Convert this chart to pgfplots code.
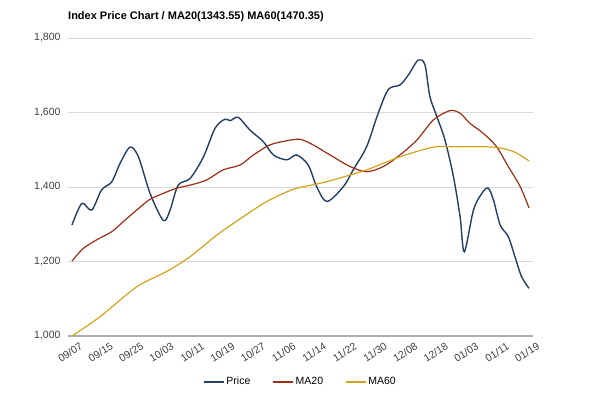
\documentclass[border=0pt]{standalone}
\usepackage{pgfplots}
\pgfplotsset{compat=1.18}
\usepackage{fontspec}
\setmainfont{Liberation Sans}
\definecolor{pricec}{HTML}{233F63}
\definecolor{ma20c}{HTML}{9A2E16}
\definecolor{ma60c}{HTML}{D6A21C}
\definecolor{gridc}{HTML}{D9D9D9}
\definecolor{txtc}{HTML}{404040}
\begin{document}
\begin{tikzpicture}
\path[use as bounding box] (0,0) rectangle (600pt,396pt);
\node[anchor=base west, font=\bfseries\fontsize{11}{13}\selectfont, inner sep=0pt] at (68pt,376.5pt) {Index Price Chart / MA20(1343.55) MA60(1470.35)};
\begin{axis}[
  at={(68pt,60pt)}, anchor=south west,
  scale only axis, width=465pt, height=298pt,
  xmin=-0.114, xmax=13.114, ymin=1000, ymax=1800,
  clip=false,
  axis line style={draw=none},
  major tick length=0pt,
  ymajorgrids, grid style={gridc, line width=0.8pt},
  ytick={1000,1200,1400,1600,1800},
  xtick={0,0.8667,1.7333,2.6,3.4667,4.3333,5.2,6.0667,6.9333,7.8,8.6667,9.5333,10.4,11.2667,12.1333,13},
  xticklabels={09/07,09/15,09/25,10/03,10/11,10/19,10/27,11/06,11/14,11/22,11/30,12/08,12/18,01/03,01/11,01/19},
  /pgf/number format/assume math mode=true,
  /pgf/number format/1000 sep={,},
  yticklabel style={font=\fontsize{10.5}{12}\selectfont, text=txtc, xshift=-4pt},
  xticklabel style={font=\fontsize{10.5}{12}\selectfont, text=txtc, rotate=32, anchor=north east, inner sep=0pt, yshift=-9pt, xshift=3pt},
  legend style={at={(0.5,-0.154)}, anchor=center, draw=none, font=\fontsize{10.5}{12}\selectfont, legend columns=3, /tikz/every even column/.append style={column sep=20pt}},
  legend image code/.code={\draw[#1, line width=1.3pt] (0pt,0pt) -- (20pt,0pt);},
]
\draw[gridc!80!black, line width=1.2pt] (rel axis cs:0,0) -- (rel axis cs:1,0);
\addplot[pricec, line width=1.4pt, smooth, tension=0.5] coordinates {
(0,1298) (0.28,1356) (0.56,1338) (0.84,1392) (1.13,1414) (1.37,1464) (1.65,1507) (1.89,1481)
(2.22,1383) (2.6,1310) (2.79,1338) (3.02,1405) (3.36,1423) (3.74,1481) (4.07,1558) (4.35,1582)
(4.5,1578) (4.73,1587) (5.06,1553) (5.44,1522) (5.73,1486) (6.11,1473) (6.39,1486) (6.72,1459)
(6.96,1401) (7.25,1361) (7.72,1401) (8.0,1446) (8.38,1508) (8.71,1598) (9.0,1662) (9.33,1674)
(9.57,1701) (9.85,1741) (10.04,1728) (10.18,1643) (10.38,1589) (10.61,1526) (10.85,1428) (11.04,1320)
(11.16,1226) (11.42,1338) (11.66,1383) (11.84,1397) (11.99,1365) (12.18,1298) (12.41,1267) (12.6,1213)
(12.79,1159) (13.0,1128)
};
\addlegendentry{Price}
\addplot[ma20c, line width=1.2pt, smooth, tension=0.5] coordinates {
(0,1201) (0.32,1235) (0.7,1258) (1.13,1280) (1.46,1307) (1.84,1338) (2.22,1367) (2.6,1383)
(2.98,1397) (3.36,1405) (3.83,1419) (4.3,1446) (4.78,1459) (5.16,1486) (5.63,1513) (6.11,1524)
(6.49,1528) (6.86,1513) (7.34,1486) (7.91,1455) (8.38,1441) (8.86,1455) (9.33,1486) (9.81,1526)
(10.28,1580) (10.75,1605) (11.04,1598) (11.32,1571) (11.7,1544) (12.08,1508) (12.41,1455) (12.75,1401)
(13.0,1344)
};
\addlegendentry{MA20}
\addplot[ma60c, line width=1.2pt, smooth, tension=0.5] coordinates {
(0,1000) (0.8,1052) (1.84,1132) (2.69,1173) (3.36,1213) (4.12,1271) (4.87,1320) (5.54,1361)
(6.3,1394) (6.96,1408) (7.43,1419) (8.38,1446) (9.33,1481) (10.28,1507) (10.94,1508) (11.99,1507)
(12.56,1495) (13.0,1470)
};
\addlegendentry{MA60}
\end{axis}
\end{tikzpicture}
\end{document}
